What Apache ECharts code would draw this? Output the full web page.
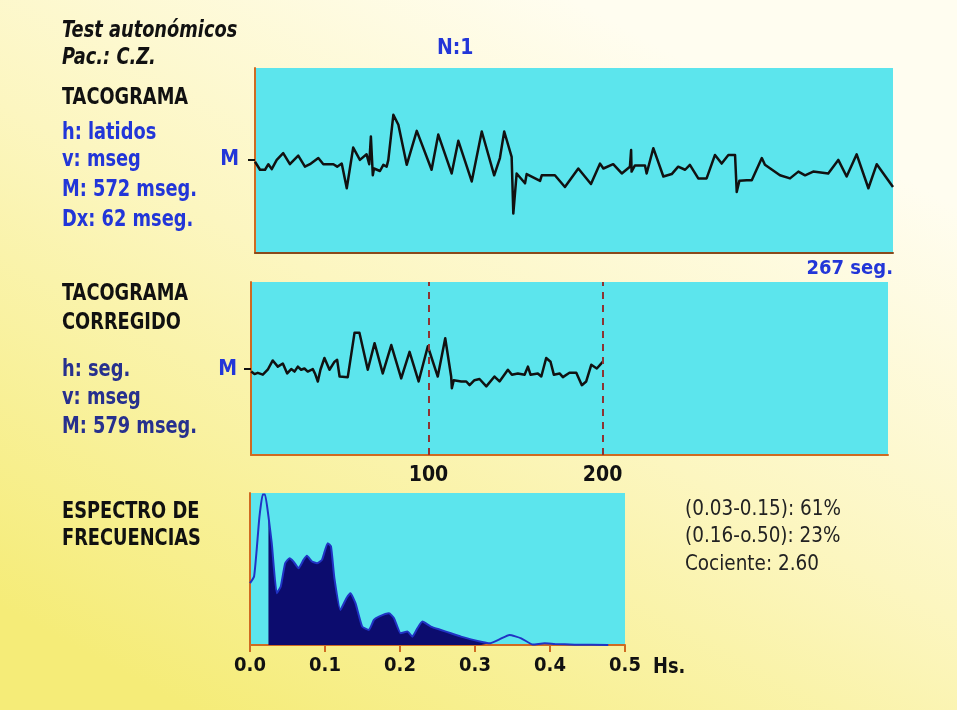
<!DOCTYPE html>
<html>
<head>
<meta charset="utf-8">
<script src="https://cdn.jsdelivr.net/npm/echarts@6/dist/echarts.min.js"></script>
<style>html,body{margin:0;padding:0}#chart{width:957px;height:710px}</style>
</head>
<body>
<div id="chart"></div>
<script>
// tacograma: beat index / RR interval (ms)
var tacoBeats = [0, 0.7, 2.1, 4.2, 5.6, 7.0, 9.1, 11.8, 14.6, 18.1, 20.9, 23.0, 26.5, 28.6, 32.8, 34.4, 36.3, 38.4, 41.1, 43.9,
  46.7, 47.8, 48.5, 49.3, 49.8, 52.3, 53.7, 55.1, 55.8, 57.9, 60.0, 63.5, 67.7, 73.9, 76.7, 82.3, 85.1, 90.7, 94.9, 100.1,
  102.5, 104.3, 107.4, 108.1, 109.5, 113.0, 113.7, 119.3, 120.0, 125.5, 129.7, 135.3, 140.6, 144.4, 145.8, 149.9, 153.5, 156.9, 157.4, 157.6,
  159.0, 163.2, 163.9, 166.7, 170.9, 174.4, 177.1, 180.0, 182.0, 185.5, 189.0, 192.5, 195.3, 198.1, 200.9, 201.6, 202.7, 205.8, 207.9, 212.1,
  213.4, 219.7, 223.9, 227.4, 230.2, 233.6, 239.9, 244.1, 247.6, 251.8, 256.7, 260.2, 267];
var tacoMs = [568, 565, 555, 555, 564, 556, 571, 582, 564, 578, 560, 564, 574, 564, 564, 560, 565, 525, 591, 571,
  580, 564, 609, 546, 557, 553, 563, 560, 571, 644, 628, 563, 618, 555, 612, 549, 602, 536, 617, 546,
  574, 617, 576, 484, 549, 533, 548, 537, 546, 546, 527, 557, 532, 565, 557, 564, 549, 560, 587, 552,
  562, 562, 549, 590, 544, 548, 560, 555, 563, 541, 541, 579, 565, 579, 579, 519, 537, 538, 538, 574,
  563, 546, 541, 552, 546, 552, 549, 571, 544, 580, 525, 564, 527];

// tacograma corregido: seconds / ms
var corrSec = [-1.9, 0, 1.9, 4.8, 7.6, 10.5, 13.4, 16.3, 18.8, 21.1, 23.0, 24.9, 26.8, 28.7, 30.6, 33.5, 34.9, 36.4, 37.9, 40.2,
  43.1, 46.0, 47.5, 48.9, 53.6, 57.5, 60.3, 65.1, 69.0, 73.7, 78.6, 84.3, 89.1, 94.3, 99.6, 105.3, 109.6, 113.0, 113.4, 114.5,
  118.8, 121.7, 123.6, 126.4, 129.3, 133.2, 137.9, 140.8, 145.6, 147.9, 151.3, 155.2, 157.1, 158.6, 162.8, 164.8, 167.6, 170.1, 172.0, 175.3,
  177.2, 181.0, 184.9, 188.1, 190.6, 193.5, 196.7, 200.2];
var corrMs = [575, 571, 573, 570, 578, 593, 583, 588, 572, 579, 575, 583, 578, 580, 575, 579, 571, 559, 578, 597,
  578, 591, 594, 567, 566, 638, 638, 578, 621, 572, 618, 564, 607, 559, 616, 567, 629, 567, 548, 561,
  559, 559, 553, 561, 563, 551, 567, 559, 578, 570, 572, 570, 583, 570, 572, 567, 597, 591, 570, 572,
  566, 573, 573, 553, 559, 586, 580, 591];

// espectro de frecuencias: Hz / potencia relativa
var specFreq = [0, 0.0054, 0.0089, 0.0125, 0.017, 0.020, 0.0246, 0.029, 0.0357, 0.041, 0.0469, 0.0527, 0.058, 0.0647, 0.0714, 0.0759,
  0.0826, 0.0893, 0.096, 0.1036, 0.108, 0.1125, 0.1205, 0.1286, 0.1339, 0.1406, 0.1496, 0.1585, 0.1652, 0.1719, 0.1853, 0.192,
  0.2009, 0.2098, 0.2165, 0.2232, 0.2299, 0.2411, 0.2545, 0.2679, 0.2813, 0.2946, 0.308, 0.3192, 0.3326, 0.346, 0.3616, 0.3772,
  0.3929, 0.4063, 0.433, 0.4777];
var specPow = [40.7, 45.1, 62.6, 84, 99, 99, 84.6, 67, 34.1, 38.5, 53.8, 57.1, 54.9, 50.5, 56, 58.7,
  54.9, 53.8, 56, 67, 64.8, 44, 23.1, 30.8, 34.1, 27.5, 12.1, 9.9, 16.5, 18.7, 20.9, 17.6,
  7.7, 8.8, 5.5, 11, 15.4, 12.1, 9.9, 7.7, 5.5, 3.7, 2.2, 1.1, 3.7, 6.6, 4.4, 0.3,
  1.1, 0.7, 0.2, 0];
var bandStart = 0.024, bandEnd = 0.32;

var tacoTicks = [267];
var meanTaco = [572];
var meanCorr = [579];
var corrTicks = [100, 200];

var leftText = [
  ['Test autonómicos', 31, '#111', 'italic'],
  ['Pac.: C.Z.', 58, '#111', 'italic'],
  ['TACOGRAMA', 98, '#111', 'normal'],
  ['h: latidos', 133, '#2236d8', 'normal'],
  ['v: mseg', 160, '#2236d8', 'normal'],
  ['M: 572 mseg.', 190, '#2236d8', 'normal'],
  ['Dx: 62 mseg.', 220, '#2236d8', 'normal'],
  ['TACOGRAMA', 294, '#111', 'normal'],
  ['CORREGIDO', 323, '#111', 'normal'],
  ['h: seg.', 370, '#27308e', 'normal'],
  ['v: mseg', 398, '#27308e', 'normal'],
  ['M: 579 mseg.', 427, '#27308e', 'normal'],
  ['ESPECTRO DE', 512, '#111', 'normal'],
  ['FRECUENCIAS', 539, '#111', 'normal']
];
var rightText = ['(0.03-0.15): 61%', '(0.16-o.50): 23%', 'Cociente: 2.60'];

var FONT = '"Liberation Sans Narrow", "DejaVu Sans Condensed", "Liberation Sans", sans-serif';
var ORANGE = '#cf6a22';
var CYAN = '#5ce5ed';

var chart = echarts.init(document.getElementById('chart'));

function pairs(xs, ys) {
  return xs.map(function (x, i) { return [x, ys[i]]; });
}
var specData = pairs(specFreq, specPow);
var bandData = specData.filter(function (d) { return d[0] >= bandStart && d[0] <= bandEnd; });

var graphics = leftText.map(function (t) {
  return {
    type: 'text', x: 62, y: t[1] - 11, scaleX: 0.86,
    style: { text: t[0], fill: t[2], font: t[3] + ' bold 23px ' + FONT }
  };
});
rightText.forEach(function (t, i) {
  graphics.push({
    type: 'text', x: 685, y: 498 + i * 27.5, scaleX: 0.93,
    style: { text: t, fill: '#222', font: '22px ' + FONT }
  });
});
graphics.push({
  type: 'text', x: 653, y: 656, scaleX: 0.9,
  style: { text: 'Hs.', fill: '#111', font: 'bold 22px ' + FONT }
});

var option = {
  animation: false,
  backgroundColor: {
    type: 'linear', x: 0.6, y: 0, x2: 0.2, y2: 1,
    colorStops: [
      { offset: 0, color: '#fffdf0' },
      { offset: 0.45, color: '#fcf6c0' },
      { offset: 1, color: '#f5ec78' }
    ]
  },
  title: {
    text: 'N:1', left: 432, top: 33,
    textStyle: { color: '#2236d8', fontFamily: FONT, fontWeight: 'bold', fontSize: 21 }
  },
  graphic: graphics,
  grid: [
    { left: 255, top: 68, right: 64, bottom: 457, show: true, backgroundColor: CYAN, borderWidth: 0 },
    { left: 251, top: 282, right: 69, bottom: 255, show: true, backgroundColor: CYAN, borderWidth: 0 },
    { left: 250, top: 493, right: 332, bottom: 65, show: true, backgroundColor: CYAN, borderWidth: 0 }
  ],
  xAxis: [
    {
      gridIndex: 0, type: 'value', min: 0, max: 267,
      axisLine: { lineStyle: { color: '#8a4a1c', width: 2 } },
      axisTick: { show: false },
      splitLine: { show: false },
      axisLabel: {
        customValues: tacoTicks, formatter: '{value} seg.', align: 'right', margin: 6,
        color: '#2236d8', fontFamily: FONT, fontWeight: 'bold', fontSize: 20
      }
    },
    {
      gridIndex: 1, type: 'value', min: -2, max: 364,
      axisLine: { lineStyle: { color: ORANGE, width: 2 } },
      axisTick: { show: false },
      splitLine: { show: false },
      axisLabel: {
        customValues: corrTicks, margin: 10,
        color: '#111', fontFamily: FONT, fontWeight: 'bold', fontSize: 21
      }
    },
    {
      gridIndex: 2, type: 'value', min: 0, max: 0.5, interval: 0.1,
      axisLine: { lineStyle: { color: ORANGE, width: 2 } },
      axisTick: { show: true, length: 7, lineStyle: { color: ORANGE, width: 2 } },
      splitLine: { show: false },
      axisLabel: {
        margin: 11, formatter: function (v) { return v.toFixed(1); },
        color: '#111', fontFamily: FONT, fontWeight: 'bold', fontSize: 20
      }
    }
  ],
  yAxis: [
    {
      gridIndex: 0, type: 'value', min: 420, max: 720,
      axisLine: { show: true, onZero: false, lineStyle: { color: ORANGE, width: 2 } },
      axisTick: { show: true, customValues: meanTaco, length: 7, lineStyle: { color: '#111', width: 2 } },
      splitLine: { show: false },
      axisLabel: {
        customValues: meanTaco, formatter: function () { return 'M'; }, margin: 16,
        color: '#2236d8', fontFamily: FONT, fontWeight: 'bold', fontSize: 21
      }
    },
    {
      gridIndex: 1, type: 'value', min: 440, max: 720,
      axisLine: { show: true, onZero: false, lineStyle: { color: ORANGE, width: 2 } },
      axisTick: { show: true, customValues: meanCorr, length: 7, lineStyle: { color: '#111', width: 2 } },
      splitLine: { show: false },
      axisLabel: {
        customValues: meanCorr, formatter: function () { return 'M'; }, margin: 14,
        color: '#2236d8', fontFamily: FONT, fontWeight: 'bold', fontSize: 21
      }
    },
    {
      gridIndex: 2, type: 'value', min: 0, max: 100,
      axisLine: { show: true, onZero: false, lineStyle: { color: ORANGE, width: 2 } },
      axisTick: { show: false },
      splitLine: { show: false },
      axisLabel: { show: false }
    }
  ],
  series: [
    {
      name: 'Tacograma', type: 'line', xAxisIndex: 0, yAxisIndex: 0,
      data: pairs(tacoBeats, tacoMs), showSymbol: false,
      lineStyle: { color: '#111', width: 2.5, join: 'round' }
    },
    {
      name: 'Tacograma corregido', type: 'line', xAxisIndex: 1, yAxisIndex: 1,
      data: pairs(corrSec, corrMs), showSymbol: false,
      lineStyle: { color: '#111', width: 2.5, join: 'round' },
      markLine: {
        silent: true, symbol: 'none', label: { show: false },
        lineStyle: { color: '#8e3434', type: [7, 6], width: 2 },
        data: corrTicks.map(function (v) { return { xAxis: v }; })
      }
    },
    {
      name: 'Banda', type: 'line', xAxisIndex: 2, yAxisIndex: 2,
      data: bandData, showSymbol: false, smooth: 0.15,
      lineStyle: { width: 0 },
      areaStyle: { color: '#0c0c6e', opacity: 1 }
    },
    {
      name: 'Espectro', type: 'line', xAxisIndex: 2, yAxisIndex: 2,
      data: specData, showSymbol: false, smooth: 0.15,
      lineStyle: { color: '#2033c4', width: 2 }
    }
  ]
};

chart.setOption(option);
</script>
</body>
</html>
